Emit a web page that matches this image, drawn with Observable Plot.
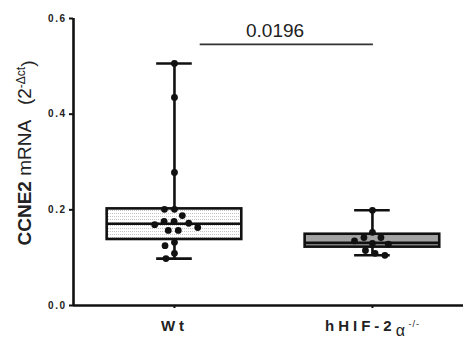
<!DOCTYPE html>
<html><head><meta charset="utf-8">
<script src="https://cdn.jsdelivr.net/npm/d3@7"></script>
<script src="https://cdn.jsdelivr.net/npm/@observablehq/plot@0.6"></script>
<style>
body{margin:0;background:#fff}
.ytl text{letter-spacing:1.5px}
</style>
</head><body><div id="chart"></div>
<script>
const groups = ["Wt", "hHIF-2α-/-"];
const wtValues = [0.506, 0.435, 0.278, 0.201, 0.201, 0.188, 0.176, 0.176, 0.172, 0.169, 0.163, 0.157, 0.157, 0.132, 0.125, 0.109, 0.098];
const hifValues = [0.199, 0.153, 0.142, 0.142, 0.135, 0.130, 0.128, 0.115, 0.109, 0.105];
const boxMin = [0.098, 0.105];
const boxQ1 = [0.138, 0.122];
const boxMedian = [0.171, 0.131];
const boxQ3 = [0.202, 0.149];
const boxMax = [0.506, 0.199];
const yTicks = [0, 0.2, 0.4, 0.6];
const yTitle = "CCNE2 mRNA (2-Δct)";
const pLabel = "0.0196";
const pValue = 0.546;
const pFrom = 0.13, pTo = 1.005, pLabelX = 0.508;

const W = 463, H = 341, mL = 73, mR = 0, mT = 18, mB = 36;
const xDomain = [-0.51, 1.46];
const yDomain = [0, 0.6];
const xs = Plot.scale({x: {domain: xDomain, range: [mL, W - mR]}});
const ys = Plot.scale({y: {domain: yDomain, range: [H - mB, mT]}});

// beeswarm placement (pixel space) around each group centre
const R = 3.4;
const GAP = 3.2;
function swarm(values, gi) {
  const placed = [];
  const sorted = values.slice().sort((a, b) => b - a);
  const out = [];
  const D = 2 * R + GAP;
  for (const v of sorted) {
    const py = ys.apply(v);
    const cands = [0];
    for (const p of placed) {
      const dy = Math.abs(p.py - py);
      if (dy < D) {
        const dx = Math.sqrt(D * D - dy * dy);
        cands.push(p.off + dx, p.off - dx);
      }
    }
    cands.sort((a, b) => Math.abs(a) - Math.abs(b) || a - b);
    let off = 0;
    for (const c of cands) {
      if (placed.every(p => Math.hypot(p.off - c, p.py - py) >= D - 1e-6)) { off = c; break; }
    }
    placed.push({py, off});
    const cx = xs.apply(gi) + off;
    out.push({group: groups[gi], value: v, x: xs.invert(cx)});
  }
  return out;
}
const points = [...swarm(wtValues, 0), ...swarm(hifValues, 1)];
const boxes = groups.map((g, i) => ({group: g, i, min: boxMin[i], q1: boxQ1[i], median: boxMedian[i], q3: boxQ3[i], max: boxMax[i]}));

const hw = 0.34, cw = 0.09;
const plot = Plot.plot({
  width: W, height: H, marginLeft: mL, marginRight: mR, marginTop: mT, marginBottom: mB,
  style: {fontFamily: "'Liberation Sans', Arial, sans-serif", color: "#222", background: "#fff"},
  x: {domain: xDomain, axis: null},
  y: {domain: yDomain, axis: null},
  marks: [
    Plot.ruleX(boxes, {x: "i", y1: "q3", y2: "max", stroke: "#111", strokeWidth: 2.6}),
    Plot.ruleX(boxes, {x: "i", y1: "min", y2: "q1", stroke: "#111", strokeWidth: 2.6}),
    Plot.ruleY(boxes, {y: "max", x1: d => d.i - cw, x2: d => d.i + cw, stroke: "#111", strokeWidth: 2.6}),
    Plot.ruleY(boxes, {y: "min", x1: d => d.i - cw, x2: d => d.i + cw, stroke: "#111", strokeWidth: 2.6}),
    Plot.rect(boxes, {x1: d => d.i - hw, x2: d => d.i + hw, y1: "q1", y2: "q3",
      fill: d => d.i === 0 ? "url(#stipple)" : "#a3a3a3", stroke: "#111", strokeWidth: 2.6}),
    Plot.ruleY(boxes, {y: "median", x1: d => d.i - hw, x2: d => d.i + hw, stroke: "#111", strokeWidth: 2.6}),
    Plot.dot(points, {x: "x", y: "value", r: R, fill: "#111", stroke: "none"}),
    Plot.ruleY([0], {stroke: "#111", strokeWidth: 2.6}),
    Plot.ruleX([xDomain[0]], {y1: yDomain[0], y2: yDomain[1], stroke: "#111", strokeWidth: 2.6}),
    Plot.axisY(yTicks, {tickSize: 4, tickPadding: 3, tickFormat: d3.format(".1f"), fontSize: 10, fontWeight: "bold", stroke: "#111", strokeWidth: 2, className: "ytl"}),
    Plot.axisX([0, 1], {tickSize: 3, tickPadding: 12, tickFormat: i => groups[i], fontSize: 15, fontWeight: "bold", strokeWidth: 2, stroke: "#111", className: "xtl"}),
    Plot.ruleY([pValue], {x1: pFrom, x2: pTo, stroke: "#333", strokeWidth: 1.6}),
    Plot.text([pLabel], {x: pLabelX, y: pValue, text: d => d, lineAnchor: "bottom", dy: -7, fontSize: 19, fill: "#222"}),
    Plot.text([yTitle], {frameAnchor: "left", text: d => d, textAnchor: "middle", lineAnchor: "middle", rotate: -90, dx: -49, dy: -9, fontSize: 19, fill: "#222", className: "ytitle"})
  ]
});

const svg = d3.select(plot);
const defs = svg.insert("defs", ":first-child");
const pat = defs.append("pattern").attr("id", "stipple").attr("patternUnits", "userSpaceOnUse").attr("width", 2).attr("height", 3);
pat.append("rect").attr("width", 2).attr("height", 3).attr("fill", "#fff");
pat.append("rect").attr("width", 1).attr("height", 1).attr("fill", "#c4c4c4");

// x tick labels: letter spacing & rich hHIF label
svg.selectAll(".xtl text").each(function() {
  const t = d3.select(this);
  const s = t.text();
  t.style("letter-spacing", "4px");
  if (s !== groups[0]) {
    t.text(null);
    t.append("tspan").text("hHIF-2");
    t.append("tspan").attr("dy", "0.3em").attr("font-weight", "normal").attr("font-size", 16).style("letter-spacing", "0px").text("α");
    t.append("tspan").attr("dy", "-0.95em").attr("font-weight", "normal").attr("font-size", 9).style("letter-spacing", "1px").text(" -/-");
  }
});
// y title rich text
svg.selectAll(".ytitle text").each(function() {
  const t = d3.select(this);
  t.text(null);
  t.append("tspan").attr("font-weight", "bold").text("CCNE2");
  t.append("tspan").text(" mRNA   (2");
  t.append("tspan").attr("dy", "-0.45em").attr("font-size", 12).text("-Δct");
  t.append("tspan").attr("dy", "0.45em").text(")");
});

document.getElementById("chart").append(plot);
</script>
</body></html>
